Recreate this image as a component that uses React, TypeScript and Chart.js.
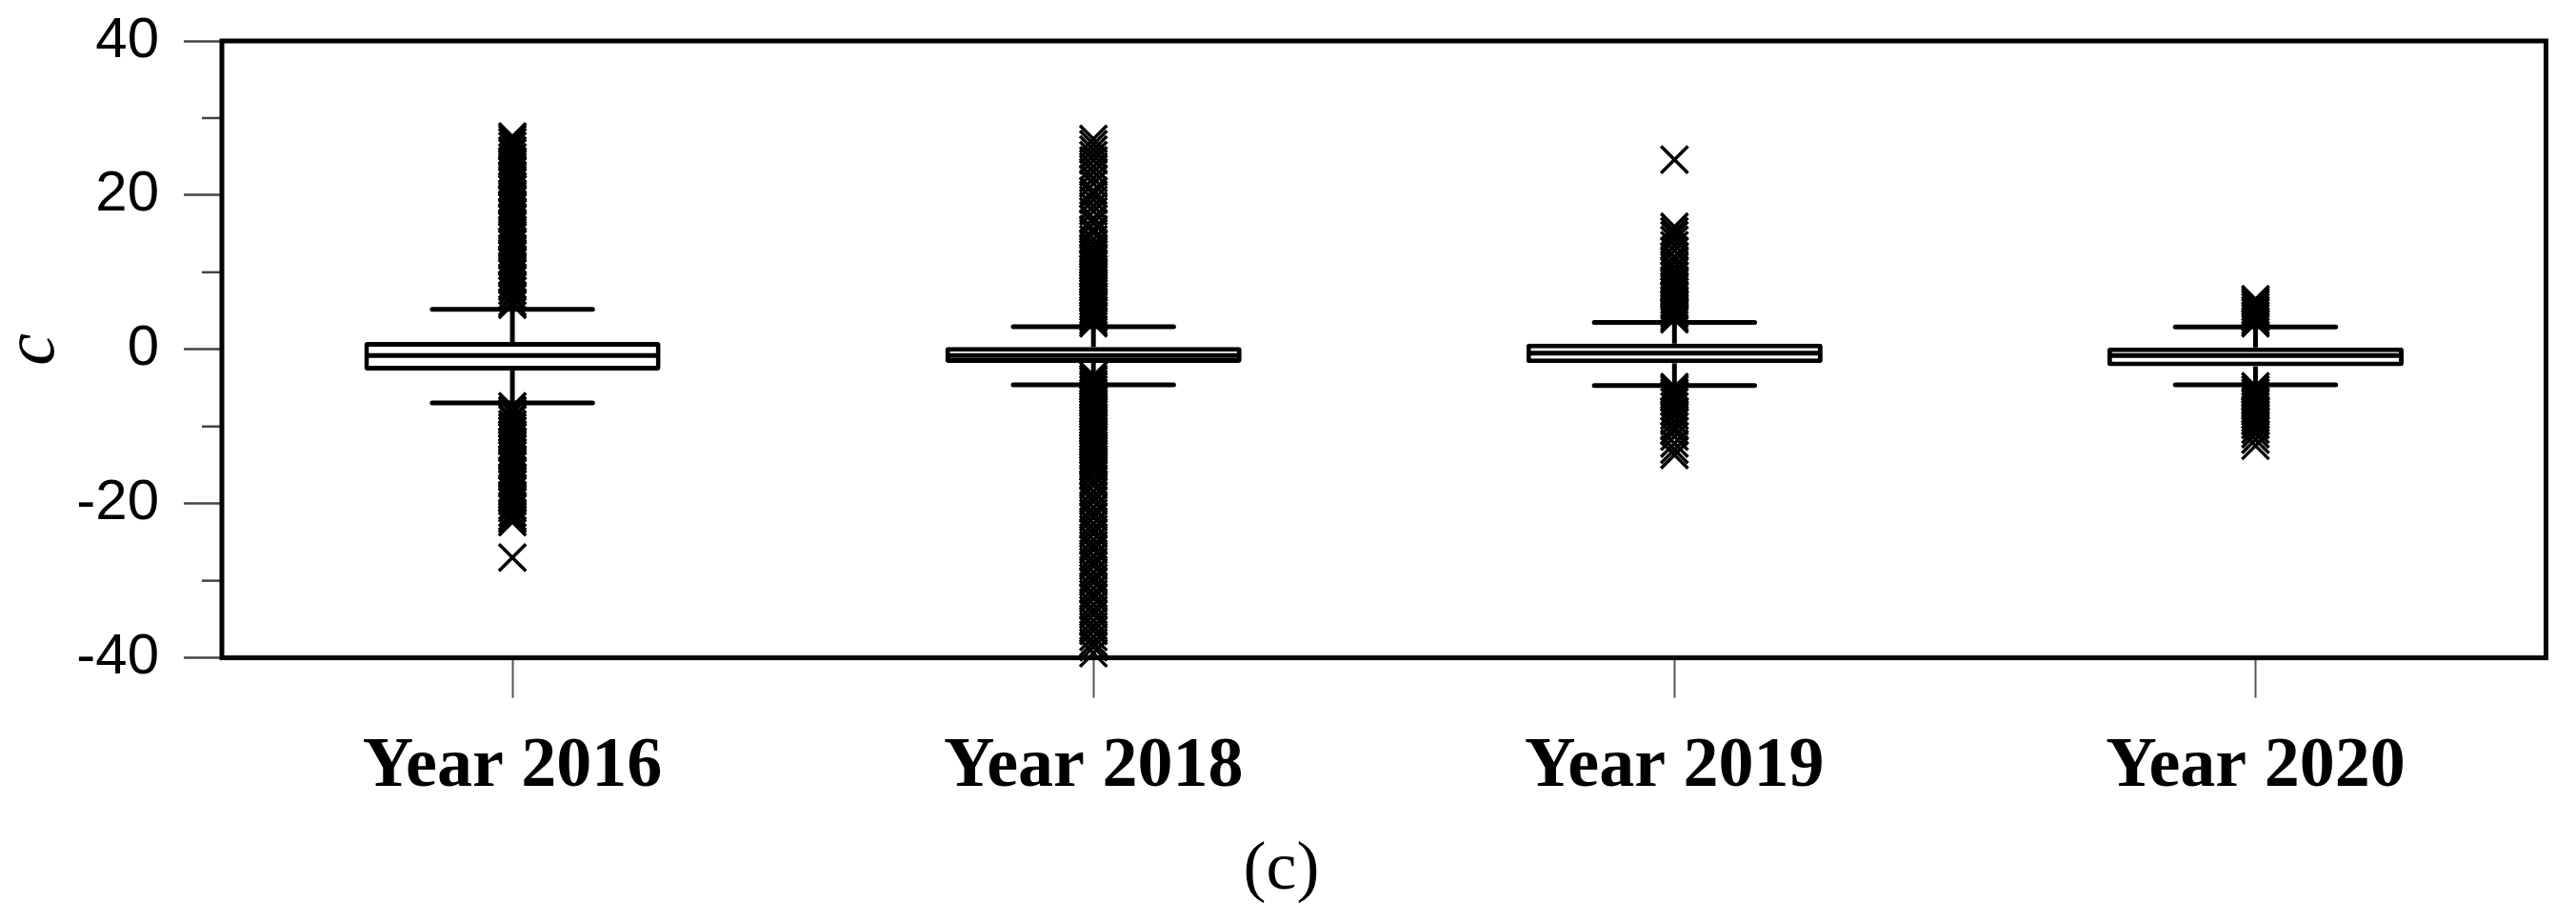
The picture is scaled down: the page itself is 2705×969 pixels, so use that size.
import React, { useEffect, useRef } from 'react';
import { Chart, registerables } from 'chart.js';

Chart.register(...registerables);

// ---------- data ----------
const categories = ['Year 2016', 'Year 2018', 'Year 2019', 'Year 2020'];
const q1 = [-2.75, -1.75, -1.8, -2.2];
const median = [-0.8, -0.8, -0.5, -0.8];
const q3 = [0.95, 0.3, 0.74, 0.25];
const whiskerLow = [-6.95, -4.6, -4.7, -4.6];
const whiskerHigh = [5.2, 2.95, 3.5, 2.9];

const outliers2016 = [
  5.8, 6.1, 6.7, 7.0, 7.6, 8.1, 8.4, 9.0, 9.3, 9.9, 10.2, 10.8, 11.3, 11.6, 12.2, 12.5, 13.1, 13.7,
  14.0, 14.6, 14.9, 15.5, 16.0, 16.3, 16.9, 17.2, 17.8, 18.4, 18.7, 19.3, 19.6, 20.2, 20.8, 21.1,
  21.7, 22.0, 22.6, 23.1, 23.4, 24.0, 24.4, 24.9, 25.5, 25.8, 26.4, 26.9, 27.3, 27.6,
  -7.4, -7.9, -8.2, -8.8, -9.1, -9.7, -10.1, -10.5, -11.0, -11.4, -11.9, -12.5, -12.8, -13.4, -13.7,
  -14.3, -14.8, -15.1, -15.7, -16.0, -16.6, -17.1, -17.4, -18.0, -18.3, -18.9, -19.4, -19.7, -20.3,
  -20.6, -21.2, -21.7, -22.0, -22.4, -27.0,
];
const outliers2018 = [
  3.4, 3.7, 4.1, 4.4, 4.8, 5.1, 5.5, 5.8, 6.2, 6.6, 6.9, 7.3, 7.6, 8.0, 8.3, 8.7, 9.1, 9.4, 9.8,
  10.1, 10.5, 10.9, 11.2, 11.6, 11.9, 12.3, 12.7, 13.0, 13.6, 14.3, 15.1, 15.6, 16.4, 17.0, 17.9,
  18.6, 19.4, 20.1, 20.6, 21.5, 22.2, 23.0, 23.7, 24.5, 25.2, 25.9, 26.6, 27.3,
  -3.4, -3.8, -4.1, -4.5, -4.8, -5.2, -5.6, -5.9, -6.3, -6.6, -7.0, -7.4, -7.7, -8.1, -8.4, -8.8,
  -9.2, -9.5, -9.9, -10.2, -10.6, -11.0, -11.3, -11.7, -12.0, -12.4, -12.8, -13.1, -13.5, -13.8,
  -14.2, -14.6, -14.9, -15.3, -15.7, -16.3, -17.0, -17.6, -18.4, -19.1, -19.7, -20.5, -21.2, -21.8,
  -22.6, -23.3, -23.9, -24.7, -25.4, -26.0, -26.8, -27.5, -28.1, -28.9, -29.6, -30.2, -31.0, -31.7,
  -32.3, -33.1, -33.8, -34.4, -35.2, -35.9, -36.5, -37.3, -38.0, -38.6, -39.4,
];
const outliers2019 = [
  3.9, 4.2, 4.6, 4.9, 5.3, 5.7, 6.0, 6.4, 6.8, 7.1, 7.5, 7.9, 8.2, 8.6, 9.0, 9.5, 10.1, 10.7, 11.4,
  12.0, 12.8, 13.5, 14.2, 14.8, 15.3, 15.9, 24.6,
  -4.9, -5.2, -5.6, -5.9, -6.3, -6.8, -7.4, -8.0, -8.6, -9.3, -10.0, -10.6, -11.3, -12.2, -13.0, -13.7,
];
const outliers2020 = [
  3.4, 3.7, 4.1, 4.4, 4.8, 5.1, 5.5, 5.9, 6.2, 6.5,
  -4.8, -5.2, -5.6, -6.0, -6.3, -6.7, -7.0, -7.4, -7.8, -8.1, -8.5, -8.9, -9.3, -9.8, -10.4, -11.0,
  -11.7, -12.5,
];
const outliersByCategory = [outliers2016, outliers2018, outliers2019, outliers2020];

const yMajorTicks = [-40, -20, 0, 20, 40];
const yMinorTicks = [-30, -10, 10, 30];
const yTitle = 'c';
const caption = '(c)';

// ---------- plugin: frame, minor ticks, whiskers, caps, medians ----------
const boxPlotPlugin = {
  id: 'boxPlotExtras',
  beforeDatasetsDraw(chart: any) {
    const { ctx, chartArea: a, scales } = chart;
    const y = scales.y;
    ctx.save();
    ctx.strokeStyle = '#444';
    ctx.lineWidth = 2.5;
    yMinorTicks.forEach((v) => {
      const py = y.getPixelForValue(v);
      ctx.beginPath();
      ctx.moveTo(a.left - 21, py);
      ctx.lineTo(a.left, py);
      ctx.stroke();
    });
    ctx.strokeStyle = '#000';
    ctx.lineWidth = 5;
    ctx.strokeRect(a.left, a.top, a.right - a.left, a.bottom - a.top);
    ctx.restore();
  },
  afterDatasetsDraw(chart: any) {
    const { ctx, scales } = chart;
    const x = scales.x;
    const y = scales.y;
    const meta = chart.getDatasetMeta(0);
    const catW = x.width / categories.length;
    const seg = (x1: number, y1: number, x2: number, y2: number) => {
      ctx.beginPath();
      ctx.moveTo(x1, y1);
      ctx.lineTo(x2, y2);
      ctx.stroke();
    };
    ctx.save();
    ctx.strokeStyle = '#000';
    ctx.lineWidth = 5;
    categories.forEach((_, i) => {
      const cx = x.getPixelForValue(i);
      const bar = meta.data[i];
      const half = bar.width / 2;
      const capHalf = catW * 0.138;
      ctx.lineCap = 'butt';
      seg(cx, y.getPixelForValue(q3[i]), cx, y.getPixelForValue(whiskerHigh[i]));
      seg(cx, y.getPixelForValue(q1[i]), cx, y.getPixelForValue(whiskerLow[i]));
      ctx.lineCap = 'round';
      seg(cx - capHalf, y.getPixelForValue(whiskerHigh[i]), cx + capHalf, y.getPixelForValue(whiskerHigh[i]));
      seg(cx - capHalf, y.getPixelForValue(whiskerLow[i]), cx + capHalf, y.getPixelForValue(whiskerLow[i]));
      ctx.lineCap = 'butt';
      seg(cx - half + 3, y.getPixelForValue(median[i]), cx + half - 3, y.getPixelForValue(median[i]));
    });
    ctx.restore();
  },
};

export default function App() {
  const canvasRef = useRef<HTMLCanvasElement | null>(null);

  useEffect(() => {
    const canvas = canvasRef.current;
    if (!canvas) return;

    const outlierPoints: { x: string; y: number }[] = [];
    outliersByCategory.forEach((arr, i) => {
      arr.forEach((v) => outlierPoints.push({ x: categories[i], y: v }));
    });

    const chart = new Chart(canvas, {
      type: 'bar',
      data: {
        labels: categories,
        datasets: [
          {
            type: 'bar',
            data: categories.map((_, i) => [q1[i], q3[i]]) as any,
            backgroundColor: '#ffffff',
            borderColor: '#000000',
            borderWidth: 5,
            borderSkipped: false,
            borderRadius: 3,
            barPercentage: 0.51,
            categoryPercentage: 1,
            order: 0,
          } as any,
          {
            type: 'line',
            data: outlierPoints as any,
            showLine: false,
            pointStyle: 'crossRot',
            pointRadius: 20,
            pointBorderWidth: 3.5,
            pointBorderColor: '#000000',
            pointBackgroundColor: 'rgba(0,0,0,0)',
            clip: false,
            order: 1,
          } as any,
        ],
      },
      options: {
        responsive: false,
        animation: false,
        devicePixelRatio: 1,
        layout: { padding: { top: 35, right: 14, bottom: 4, left: 0 } },
        plugins: {
          legend: { display: false },
          tooltip: { enabled: false },
          title: {
            display: true,
            text: caption,
            position: 'bottom',
            color: '#000',
            padding: 0,
            font: { family: 'Liberation Serif', size: 72, weight: 'normal', lineHeight: 1.2 },
          },
        },
        scales: {
          x: {
            type: 'category',
            offset: true,
            afterFit: (s: any) => {
              s.height = 180;
            },
            border: { display: false },
            grid: {
              display: true,
              offset: false,
              drawOnChartArea: false,
              drawTicks: true,
              tickLength: 42,
              tickWidth: 2,
              tickColor: '#555',
            },
            ticks: {
              color: '#000',
              padding: 29,
              maxRotation: 0,
              autoSkip: false,
              font: { family: 'Liberation Serif', size: 74, weight: 'bold', lineHeight: 1.2 },
            },
          },
          y: {
            type: 'linear',
            min: -40,
            max: 40,
            afterFit: (s: any) => {
              s.width = 225;
              s.paddingTop = 0;
              s.paddingBottom = 0;
            },
            border: { display: false },
            grid: {
              drawOnChartArea: false,
              drawTicks: true,
              tickLength: 40,
              tickWidth: 2.5,
              tickColor: (c: any) =>
                c.tick && yMajorTicks.includes(c.tick.value) ? '#444' : 'rgba(0,0,0,0)',
            },
            ticks: {
              stepSize: 10,
              color: '#000',
              padding: 26,
              font: { family: 'Liberation Sans', size: 60, lineHeight: 0.3 },
              callback: (v: any) => (yMajorTicks.includes(Number(v)) ? String(v) : ''),
            },
            title: {
              display: true,
              text: yTitle,
              color: '#000',
              padding: 0,
              font: { family: 'Liberation Serif', size: 76, style: 'italic', lineHeight: 0.74 },
            },
          },
        },
      },
      plugins: [boxPlotPlugin],
    });

    return () => chart.destroy();
  }, []);

  return (
    <canvas
      ref={canvasRef}
      width={2689}
      height={953}
      style={{ display: 'block', width: '2689px', height: '953px' }}
    />
  );
}
